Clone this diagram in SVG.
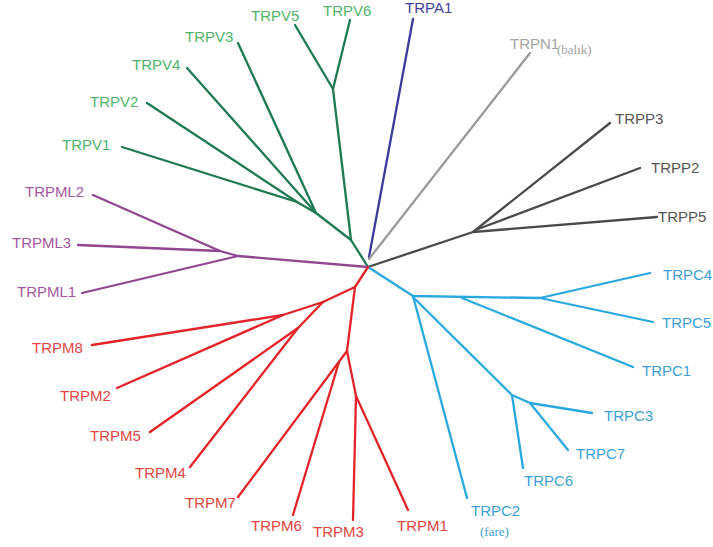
<svg xmlns="http://www.w3.org/2000/svg" width="713" height="547" viewBox="0 0 713 547">
<style>
.l{fill:none;stroke-width:2.3;stroke-linecap:round;stroke-linejoin:round}
.t{font-family:"Liberation Sans",Arial,sans-serif;font-size:15px}
.s{font-family:"Liberation Serif","Times New Roman",serif;font-size:13px}
.gV{stroke:#1f7a52}.tV{fill:#4fb46a}
.gML{stroke:#90478f}.tML{fill:#a5579f}
.gM{stroke:#e2242a}.tM{fill:#e2453f}
.gC{stroke:#2aa8e0}.tC{fill:#3d9fd6}
.gP{stroke:#4a4a4a}.tP{fill:#555555}
.gN{stroke:#9a9a9a}.tN{fill:#a3a3a3}
.gA{stroke:#3b3b9e}.tA{fill:#3f3fa0}
</style>
<rect width="713" height="547" fill="#ffffff"/>
<g id="connectors">
  <path class="l gV" d="M368,267 L351,240 L316,213 L297,202"/>
  <path class="l gV" d="M351,240 L333,89 L295,25"/>
  <path class="l gV" d="M333,89 L350,20"/>
  <path class="l gV" d="M316,213 L238,43"/>
  <path class="l gV" d="M316,213 L187,68"/>
  <path class="l gV" d="M297,202 L147,103"/>
  <path class="l gV" d="M297,202 L122,147"/>
  <path class="l gA" d="M369,257 L413,19"/>
  <path class="l gN" d="M369,259 L530,53"/>
  <path class="l gP" d="M368,267 L473,232 L610,123"/>
  <path class="l gP" d="M478,229 L640,168"/>
  <path class="l gP" d="M473,232 L657,217"/>
  <path class="l gML" d="M368,267 L238,256 L82,293"/>
  <path class="l gML" d="M238,256 L220,251 L93,195"/>
  <path class="l gML" d="M220,251 L78,245"/>
  <path class="l gC" d="M368,267 L413,296 L540,298 L650,273"/>
  <path class="l gC" d="M540,298 L653,322"/>
  <path class="l gC" d="M462,298 L633,367"/>
  <path class="l gC" d="M413,296 L467,498"/>
  <path class="l gC" d="M413,297 L512,395 L523,468"/>
  <path class="l gC" d="M512,395 L530,403 L592,413"/>
  <path class="l gC" d="M530,403 L568,450"/>
  <path class="l gM" d="M368,267 L355,287 L323,302 L283,315 L92,345"/>
  <path class="l gM" d="M283,315 L117,388"/>
  <path class="l gM" d="M323,302 L298,328 L150,432"/>
  <path class="l gM" d="M298,328 L190,467"/>
  <path class="l gM" d="M355,287 L347,351 L238,497"/>
  <path class="l gM" d="M339,362 L293,515"/>
  <path class="l gM" d="M347,351 L356,396 L353,520"/>
  <path class="l gM" d="M356,396 L408,510"/>
</g>
<g id="TRPV6"><text class="t tV" x="323" y="16">TRPV6</text></g>
<g id="TRPV5"><text class="t tV" x="251" y="21">TRPV5</text></g>
<g id="TRPV3"><text class="t tV" x="185" y="42">TRPV3</text></g>
<g id="TRPV4"><text class="t tV" x="132" y="70">TRPV4</text></g>
<g id="TRPV2"><text class="t tV" x="90" y="107">TRPV2</text></g>
<g id="TRPV1"><text class="t tV" x="62" y="150">TRPV1</text></g>
<g id="TRPA1"><text class="t tA" x="405" y="13">TRPA1</text></g>
<g id="TRPN1"><text class="t tN" x="510" y="49">TRPN1</text><text class="s tN" x="557" y="54">(balık)</text></g>
<g id="TRPP3"><text class="t tP" x="615" y="124">TRPP3</text></g>
<g id="TRPP2"><text class="t tP" x="651" y="173">TRPP2</text></g>
<g id="TRPP5"><text class="t tP" x="658" y="222">TRPP5</text></g>
<g id="TRPML2"><text class="t tML" x="25" y="197">TRPML2</text></g>
<g id="TRPML3"><text class="t tML" x="12" y="248">TRPML3</text></g>
<g id="TRPML1"><text class="t tML" x="17" y="297">TRPML1</text></g>
<g id="TRPC4"><text class="t tC" x="663" y="280">TRPC4</text></g>
<g id="TRPC5"><text class="t tC" x="662" y="328">TRPC5</text></g>
<g id="TRPC1"><text class="t tC" x="642" y="376">TRPC1</text></g>
<g id="TRPC3"><text class="t tC" x="604" y="421">TRPC3</text></g>
<g id="TRPC7"><text class="t tC" x="576" y="459">TRPC7</text></g>
<g id="TRPC6"><text class="t tC" x="524" y="486">TRPC6</text></g>
<g id="TRPC2"><text class="t tC" x="471" y="516">TRPC2</text><text class="s tC" x="480" y="536">(fare)</text></g>
<g id="TRPM8"><text class="t tM" x="32" y="353">TRPM8</text></g>
<g id="TRPM2"><text class="t tM" x="60" y="401">TRPM2</text></g>
<g id="TRPM5"><text class="t tM" x="90" y="441">TRPM5</text></g>
<g id="TRPM4"><text class="t tM" x="135" y="478">TRPM4</text></g>
<g id="TRPM7"><text class="t tM" x="185" y="508">TRPM7</text></g>
<g id="TRPM6"><text class="t tM" x="251" y="531">TRPM6</text></g>
<g id="TRPM3"><text class="t tM" x="313" y="537">TRPM3</text></g>
<g id="TRPM1"><text class="t tM" x="397" y="531">TRPM1</text></g>
</svg>
